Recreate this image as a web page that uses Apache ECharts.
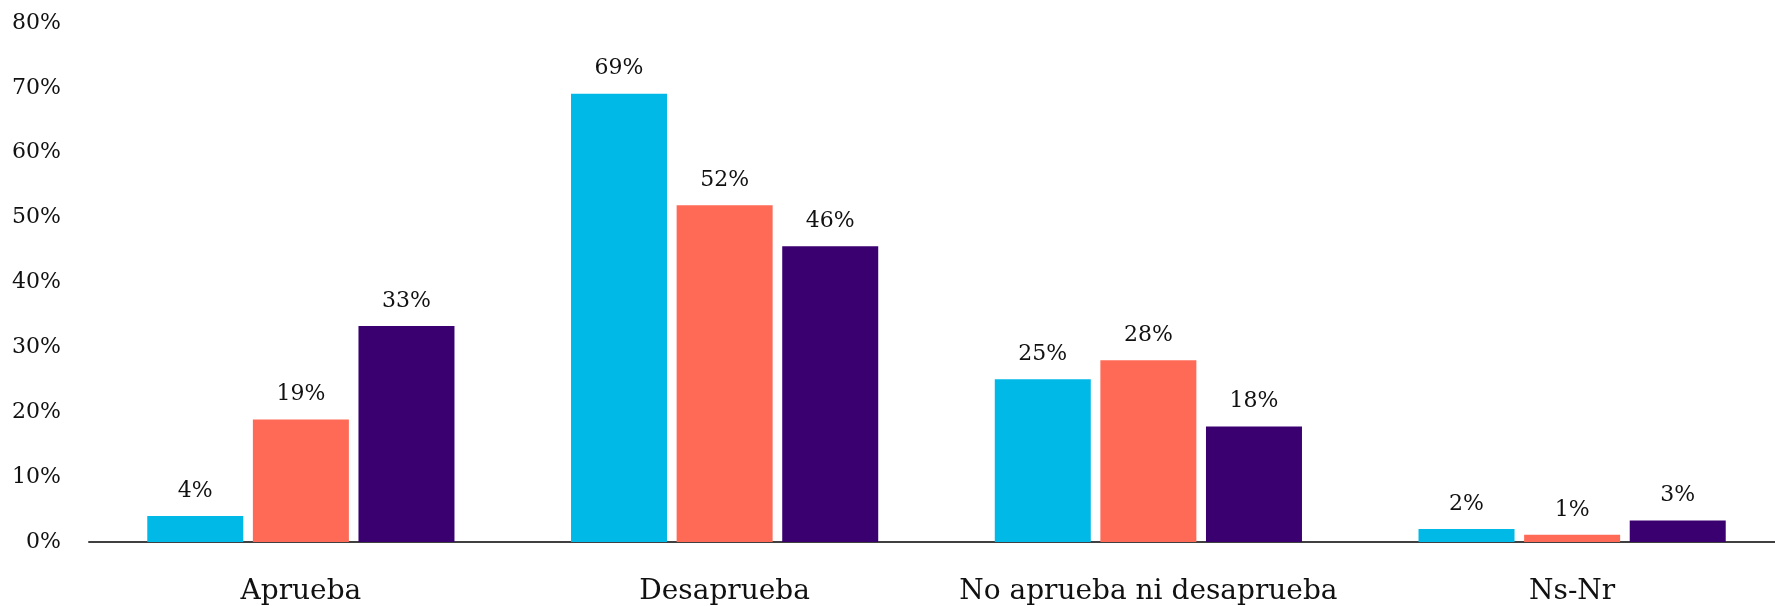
<!DOCTYPE html>
<html>
<head>
<meta charset="utf-8">
<script src="https://cdn.jsdelivr.net/npm/echarts@6/dist/echarts.min.js"></script>
<style>
html,body{margin:0;padding:0;background:#fff;}
#chart{width:1775px;height:606px;}
</style>
</head>
<body>
<div id="chart"></div>
<script>
const categories = ['Aprueba', 'Desaprueba', 'No aprueba ni desaprueba', 'Ns-Nr'];
const serie1 = [4.0, 69.1, 25.1, 2.0];
const serie2 = [18.9, 51.9, 28.0, 1.1];
const serie3 = [33.3, 45.6, 17.8, 3.3];
const yTicks = { min: 0, max: 80, interval: 10 };
const colors = ['#00B9E7', '#FF6A56', '#3A0070'];

const font = 'DejaVu Serif';
const chart = echarts.init(document.getElementById('chart'));
function mk(name, data, color) {
  return {
    name: name, type: 'bar', data: data, barWidth: 96, barGap: '10%',
    itemStyle: { color: color },
    label: {
      show: true, position: 'top', distance: 14,
      fontFamily: font, fontSize: 22, color: '#111',
      formatter: p => Math.round(p.value) + '%'
    }
  };
}
chart.setOption({
  animation: false,
  grid: { left: 89, width: 1695, top: 23, bottom: 64, containLabel: false, outerBoundsMode: 'none' },
  xAxis: {
    type: 'category', data: categories,
    axisLine: { lineStyle: { color: '#404040', width: 2 } },
    axisTick: { show: false },
    axisLabel: { fontFamily: font, fontSize: 28, color: '#111', margin: 36, interval: 0 }
  },
  yAxis: {
    type: 'value', min: yTicks.min, max: yTicks.max, interval: yTicks.interval,
    splitLine: { show: false },
    axisLine: { show: false },
    axisTick: { show: false },
    axisLabel: { fontFamily: font, fontSize: 22, color: '#111', margin: 28, formatter: '{value}%' }
  },
  series: [mk('Serie 1', serie1, colors[0]), mk('Serie 2', serie2, colors[1]), mk('Serie 3', serie3, colors[2])]
});
</script>
</body>
</html>
